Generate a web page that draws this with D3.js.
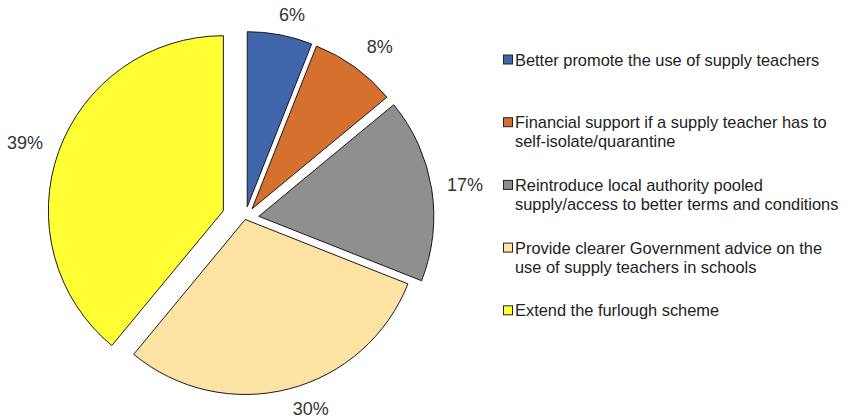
<!DOCTYPE html>
<html>
<head>
<meta charset="utf-8">
<script src="https://cdn.jsdelivr.net/npm/d3@7"></script>
<style>
  html, body { margin: 0; padding: 0; background: #fff; }
  svg { display: block; }
  text { font-family: "Liberation Sans", Arial, sans-serif; }
</style>
</head>
<body>
<svg id="chart" width="849" height="419"></svg>
<script>
// ---- data ----
const categories = [
  "Better promote the use of supply teachers",
  "Financial support if a supply teacher has to self-isolate/quarantine",
  "Reintroduce local authority pooled supply/access to better terms and conditions",
  "Provide clearer Government advice on the use of supply teachers in schools",
  "Extend the furlough scheme"
];
const values = [6, 8, 17, 30, 39];
const valueLabels = ["6%", "8%", "17%", "30%", "39%"];
const legendLines = [
  ["Better promote the use of supply teachers"],
  ["Financial support if a supply teacher has to", "self-isolate/quarantine"],
  ["Reintroduce local authority pooled", "supply/access to better terms and conditions"],
  ["Provide clearer Government advice on the", "use of supply teachers in schools"],
  ["Extend the furlough scheme"]
];

// ---- styles / layout ----
const colors = ["#4065AB", "#D6702F", "#8F8F8F", "#FCE3A3", "#FFFF33"];
const explode = [12, 12, 14, 1, 23];
const labelAngleNudge = [2.2, 2.2, 0.3, -4.6, -0.8]; // degrees
const labelDist = [209, 218, 222.5, 202, 232.6];
const cx = 245, cy = 218.5, radius = 175;

const svg = d3.select("#chart");
const pie = d3.pie().sort(null).value(d => d)(values);
const arc = d3.arc().innerRadius(0).outerRadius(radius);

const g = svg.append("g").attr("transform", `translate(${cx},${cy})`);

pie.forEach((p, i) => {
  const mid = (p.startAngle + p.endAngle) / 2;
  const dx = explode[i] * Math.sin(mid), dy = -explode[i] * Math.cos(mid);
  g.append("path")
    .attr("d", arc(p))
    .attr("transform", `translate(${dx},${dy})`)
    .attr("fill", colors[i])
    .attr("stroke", "#1a1a1a")
    .attr("stroke-width", 1)
    .attr("stroke-linejoin", "miter");

  const la = mid + labelAngleNudge[i] * Math.PI / 180;
  g.append("text")
    .text(valueLabels[i])
    .attr("font-size", 18)
    .attr("fill", "#333")
    .attr("text-anchor", "middle")
    .attr("dominant-baseline", "central")
    .attr("x", labelDist[i] * Math.sin(la))
    .attr("y", -labelDist[i] * Math.cos(la));
});

// ---- legend ----
const legend = svg.append("g");
const legendX = 503, firstBase = 65.5, rowStep = 62.7, lineStep = 19;
legendLines.forEach((lines, i) => {
  const base = firstBase + i * rowStep;
  legend.append("rect")
    .attr("x", legendX + 0.5).attr("y", base - 10.5)
    .attr("width", 9).attr("height", 9)
    .attr("fill", colors[i])
    .attr("stroke", "#222").attr("stroke-width", 1);
  lines.forEach((ln, j) => {
    legend.append("text")
      .attr("x", legendX + 12)
      .attr("y", base + j * lineStep)
      .attr("font-size", 16.4)
      .attr("fill", "#222")
      .text(ln);
  });
});
</script>
</body>
</html>
